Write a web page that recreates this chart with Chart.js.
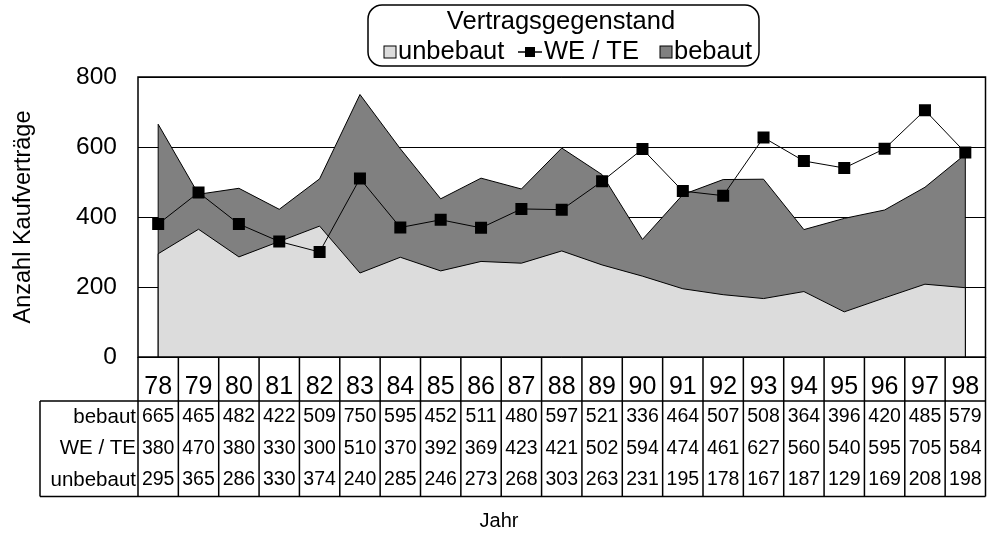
<!DOCTYPE html>
<html>
<head>
<meta charset="utf-8">
<script src="https://cdn.jsdelivr.net/npm/chart.js@4.4.1/dist/chart.umd.min.js"></script>
<style>
  html, body { margin: 0; padding: 0; background: #ffffff; }
  #wrap { width: 994px; height: 533px; position: relative; }
</style>
</head>
<body>
<div id="wrap"><canvas id="c" width="994" height="533"></canvas></div>
<script>
const years = ['78','79','80','81','82','83','84','85','86','87','88','89','90','91','92','93','94','95','96','97','98'];
const bebaut = [665,465,482,422,509,750,595,452,511,480,597,521,336,464,507,508,364,396,420,485,579];
const weTe = [380,470,380,330,300,510,370,392,369,423,421,502,594,474,461,627,560,540,595,705,584];
const unbebaut = [295,365,286,330,374,240,285,246,273,268,303,263,231,195,178,167,187,129,169,208,198];
const yTicks = [0, 200, 400, 600, 800];
const legendTitle = 'Vertragsgegenstand';
const yTitle = 'Anzahl Kaufverträge';
const xTitle = 'Jahr';
const tableRows = [
  { label: 'bebaut', values: bebaut },
  { label: 'WE / TE', values: weTe },
  { label: 'unbebaut', values: unbebaut }
];

const FONT = '"Liberation Sans", Arial, sans-serif';
Chart.defaults.font.family = FONT;
Chart.defaults.color = '#000';

const excelPlugin = {
  id: 'excelPlugin',
  afterDatasetDraw(chart, args) {
    const ds = chart.data.datasets[args.index];
    if (!ds.isArea) return;
    const ctx = chart.ctx;
    const pts = args.meta.data;
    const y0 = chart.scales.y.getPixelForValue(0);
    ctx.save();
    ctx.strokeStyle = '#000';
    ctx.lineWidth = 1;
    [pts[0], pts[pts.length - 1]].forEach(p => {
      ctx.beginPath();
      ctx.moveTo(p.x, p.y);
      ctx.lineTo(p.x, y0);
      ctx.stroke();
    });
    ctx.restore();
  },
  afterDraw(chart) {
    const ctx = chart.ctx;
    const ca = chart.chartArea;
    const xs = chart.scales.x;
    const n = years.length;
    const colW = (ca.right - ca.left) / n;
    ctx.save();
    // plot border
    ctx.strokeStyle = '#000';
    ctx.lineWidth = 1.5;
    ctx.strokeRect(ca.left, ca.top, ca.right - ca.left, ca.bottom - ca.top);

    // data table
    const tableTop = ca.bottom + 44;
    const rowH = 31.5;
    const tableBottom = tableTop + rowH * tableRows.length + 1;
    const tableLeft = 40;
    ctx.beginPath();
    for (let k = 0; k <= n; k++) {
      const x = ca.left + k * colW;
      ctx.moveTo(x, ca.bottom);
      ctx.lineTo(x, tableBottom);
    }
    ctx.moveTo(tableLeft, tableTop); ctx.lineTo(ca.right, tableTop);
    ctx.moveTo(tableLeft, tableBottom); ctx.lineTo(ca.right, tableBottom);
    ctx.moveTo(tableLeft, tableTop); ctx.lineTo(tableLeft, tableBottom);
    ctx.stroke();

    ctx.fillStyle = '#000';
    ctx.textBaseline = 'middle';
    ctx.textAlign = 'center';
    ctx.font = '25px ' + FONT;
    years.forEach((yr, i) => {
      ctx.fillText(yr, xs.getPixelForValue(i), ca.bottom + 30);
    });
    tableRows.forEach((row, r) => {
      const cy = tableTop + 16 + r * rowH;
      ctx.font = '20.5px ' + FONT;
      ctx.textAlign = 'right';
      ctx.fillText(row.label, ca.left - 2, cy);
      ctx.font = '19.5px ' + FONT;
      ctx.textAlign = 'center';
      row.values.forEach((v, i) => {
        ctx.fillText(String(v), xs.getPixelForValue(i), cy);
      });
    });

    // x title
    ctx.font = '20px ' + FONT;
    ctx.textAlign = 'center';
    ctx.fillText(xTitle, 499, 521);

    // legend
    const lx = 368, ly = 5, lw = 391, lh = 61, r = 14;
    ctx.beginPath();
    ctx.moveTo(lx + r, ly);
    ctx.lineTo(lx + lw - r, ly);
    ctx.arcTo(lx + lw, ly, lx + lw, ly + r, r);
    ctx.lineTo(lx + lw, ly + lh - r);
    ctx.arcTo(lx + lw, ly + lh, lx + lw - r, ly + lh, r);
    ctx.lineTo(lx + r, ly + lh);
    ctx.arcTo(lx, ly + lh, lx, ly + lh - r, r);
    ctx.lineTo(lx, ly + r);
    ctx.arcTo(lx, ly, lx + r, ly, r);
    ctx.closePath();
    ctx.fillStyle = '#fff';
    ctx.fill();
    ctx.lineWidth = 1.5;
    ctx.strokeStyle = '#000';
    ctx.stroke();

    ctx.fillStyle = '#000';
    ctx.font = '25.5px ' + FONT;
    ctx.textAlign = 'center';
    ctx.fillText(legendTitle, 561, 22);

    const iy = 52;
    ctx.textAlign = 'left';
    // unbebaut
    ctx.fillStyle = '#dcdcdc';
    ctx.fillRect(384, iy - 6, 12, 12);
    ctx.lineWidth = 1;
    ctx.strokeRect(384, iy - 6, 12, 12);
    ctx.fillStyle = '#000';
    ctx.fillText('unbebaut', 398, iy);
    // WE / TE
    ctx.lineWidth = 1.5;
    ctx.beginPath();
    ctx.moveTo(518, iy); ctx.lineTo(542, iy);
    ctx.stroke();
    ctx.fillRect(525, iy - 5, 10, 10);
    ctx.fillText('WE / TE', 544, iy);
    // bebaut
    ctx.fillStyle = '#808080';
    ctx.fillRect(660, iy - 6, 12, 12);
    ctx.lineWidth = 1;
    ctx.strokeRect(660, iy - 6, 12, 12);
    ctx.fillStyle = '#000';
    ctx.fillText('bebaut', 674, iy);
    ctx.restore();
  }
};

new Chart(document.getElementById('c'), {
  type: 'line',
  data: {
    labels: years,
    datasets: [
      {
        label: 'WE / TE',
        data: weTe,
        borderColor: '#000',
        borderWidth: 1,
        backgroundColor: '#000',
        pointStyle: 'rect',
        pointRadius: 8.5,
        pointBorderWidth: 0,
        pointBackgroundColor: '#000',
        fill: false,
        tension: 0
      },
      {
        label: 'unbebaut',
        data: unbebaut,
        isArea: true,
        borderColor: '#000',
        borderWidth: 1,
        backgroundColor: '#dcdcdc',
        pointRadius: 0,
        fill: 'origin',
        tension: 0
      },
      {
        label: 'bebaut',
        data: bebaut,
        isArea: true,
        borderColor: '#000',
        borderWidth: 1,
        backgroundColor: '#808080',
        pointRadius: 0,
        fill: 'origin',
        tension: 0
      }
    ]
  },
  options: {
    responsive: false,
    animation: false,
    layout: { padding: { top: 77, right: 4, left: 0, bottom: 0 } },
    plugins: {
      legend: { display: false },
      tooltip: { enabled: false },
      title: { display: false }
    },
    scales: {
      x: {
        type: 'category',
        offset: true,
        grid: { display: false, drawTicks: false },
        border: { display: false },
        ticks: { display: false },
        afterFit(scale) { scale.height = 176; }
      },
      y: {
        min: 0,
        max: 800,
        afterBuildTicks(scale) { scale.ticks = yTicks.map(v => ({ value: v })); },
        grid: { color: '#000', lineWidth: 1, drawTicks: false },
        border: { display: false },
        ticks: { padding: 21, font: { size: 24.5 }, color: '#000' },
        title: { display: true, text: yTitle, font: { size: 23.5 }, padding: { top: 9, bottom: 0 }, color: '#000' },
        afterFit(scale) { scale.width = 138; }
      }
    }
  },
  plugins: [excelPlugin]
});
</script>
</body>
</html>
